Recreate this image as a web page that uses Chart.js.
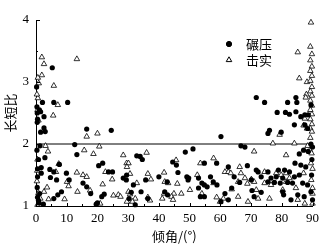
<!DOCTYPE html>
<html>
<head>
<meta charset="utf-8">
<script src="https://cdn.jsdelivr.net/npm/chart.js@4/dist/chart.umd.min.js"></script>
<style>
  html, body { margin: 0; padding: 0; background: #fff; }
  #wrap { width: 324px; height: 246px; }
</style>
</head>
<body>
<div id="wrap"><canvas id="scatterChart" width="324" height="246"></canvas></div>
<script>
// 碾压 (filled circles)
const compactAngle = [
  5.3, 2.1, 5.8, 10.3, 1.5, 2.6, 0.5, 0.4, 2.6, 1.5, 3.0, 16.5, 24.5, 0.3, 0.2, 1.1, 0.4,
  12.6, 1.3, 13.3, 1.7, 4.5, 5.8, 7.6, 9.9, 4.7, 6.7, 10.8, 20.4, 21.7, 23.6, 24.9, 15.3, 16.5,
  17.8, 22.2, 21.4, 5.8, 7.1, 20.0, 28.4, 0.5, 0.5, 0.4, 0.5, 0.8, 1.0, 1.7, 0.8, 2.9, 0.3, 1.2,
  2.4, 8.3, 19.6,
  32.8, 33.9, 34.6, 48.6, 51.1, 44.5, 45.7, 54.8, 46.2, 35.7, 49.1, 49.5, 56.8, 54.0, 54.8, 55.7,
  58.9, 31.7, 34.2, 31.0, 41.9, 42.8, 52.9, 53.5, 54.8, 30.3, 36.4, 32.3, 60.2, 29.5, 29.4, 40.0,
  42.7, 49.7, 52.9, 57.7, 58.8,
  75.5, 66.7, 68.0, 60.2, 85.7, 87.1, 88.6, 62.6, 68.8, 71.7, 72.3, 75.5, 84.3, 78.9, 80.9, 82.5,
  86.2, 87.8, 76.5, 78.2, 80.3, 84.1, 85.7, 64.5, 66.3, 70.1, 73.3, 75.5, 77.6, 79.5, 81.9, 83.5,
  86.8, 88.4, 61.5, 63.7, 62.6, 70.3, 71.0, 73.3, 80.3, 80.6, 85.2, 83.0, 87.3, 89.5, 90.0, 89.7,
  89.8, 71.7, 74.4, 81.9, 84.6, 84.9, 78.5, 81.2, 82.5, 84.6, 86.2, 87.5, 88.6, 89.5, 84.1, 76.0,
  79.8, 87.5, 88.4, 89.5, 90.0
];
const compactRatio = [
  3.23, 2.67, 2.67, 2.67, 2.52, 2.44, 2.40, 2.35, 2.26, 2.19, 2.20, 2.24, 2.22, 2.60, 2.92, 2.55, 2.50,
  1.99, 1.97, 1.83, 1.62, 1.59, 1.55, 1.67, 1.53, 1.46, 1.42, 1.42, 1.65, 1.69, 1.55, 1.55, 1.37, 1.31,
  1.20, 1.19, 1.15, 1.12, 1.18, 1.05, 1.45, 1.60, 1.47, 1.30, 1.14, 1.09, 1.05, 1.53, 1.75, 1.78, 1.90, 1.20,
  1.03, 1.23, 1.03,
  1.81, 1.80, 1.75, 1.87, 1.92, 1.71, 1.66, 1.69, 1.54, 1.42, 1.47, 1.42, 1.47, 1.37, 1.34, 1.31,
  1.34, 1.34, 1.23, 1.22, 1.23, 1.18, 1.29, 1.15, 1.15, 1.12, 1.12, 1.02, 1.07, 1.50, 1.42, 1.47,
  1.39, 1.45, 1.45, 1.39, 1.69,
  2.17, 1.97, 1.95, 2.12, 1.84, 1.90, 1.88, 1.63, 1.65, 1.58, 1.55, 1.55, 1.69, 1.58, 1.58, 1.55,
  1.66, 1.63, 1.45, 1.47, 1.45, 1.47, 1.50, 1.47, 1.38, 1.42, 1.47, 1.39, 1.38, 1.37, 1.38, 1.37,
  1.37, 1.34, 1.20, 1.29, 1.10, 1.25, 1.15, 1.22, 1.23, 1.18, 1.18, 1.10, 1.15, 1.23, 1.10, 1.50,
  1.75, 2.75, 2.67, 2.67, 2.75, 2.67, 2.51, 2.51, 2.48, 2.52, 2.44, 2.47, 2.47, 2.63, 2.31, 2.22,
  2.19, 2.31, 2.25, 2.00, 1.95
];

// 击实 (open triangles)
const tampAngle = [
  1.9, 13.3, 2.6, 1.9, 0.6, 0.9, 5.8, 0.6, 7.1, 5.6, 20.0, 0.5, 0.8, 0.3,
  16.5, 3.1, 3.9, 15.7, 18.7, 20.6, 28.4, 7.4, 6.5, 13.3, 15.3, 16.5, 22.6, 24.8, 10.1, 10.6, 21.7,
  3.6, 2.6, 13.5, 17.6, 25.2, 26.8, 27.5, 9.3, 4.1, 20.9, 29.5, 0.5, 0.4, 0.8, 1.4, 0.3, 0.5,
  36.0, 30.1, 29.6, 30.6, 36.4, 37.4, 41.7, 41.9, 43.0, 53.5, 57.8, 52.5, 46.0, 50.1, 57.8, 30.1,
  30.6, 32.8, 41.7, 44.9, 47.3, 44.1, 44.6, 41.1, 36.4, 37.1, 32.3, 29.6, 31.4, 54.0, 45.6, 58.8,
  79.3, 77.1, 84.1, 71.0, 81.4, 88.4, 89.2, 89.7, 66.3, 61.5, 62.6, 63.4, 66.7, 70.1, 71.0, 74.4,
  78.2, 79.8, 81.4, 82.5, 81.4, 87.1, 65.8, 68.0, 68.8, 74.4, 76.5, 71.7, 63.7, 61.0, 59.9, 65.8,
  69.0, 72.3, 76.0, 80.3, 84.6, 85.2, 87.5, 90.0, 90.0, 89.5, 90.0, 89.6, 90.0,
  89.5, 85.2, 85.7, 88.2, 88.0, 87.8, 87.5, 87.1, 88.2,
  89.3, 89.8, 89.3, 89.8, 89.3, 89.8, 89.3, 89.8, 89.3, 89.8, 89.3, 89.8, 89.3, 89.8, 89.3, 89.8,
  89.3, 89.8, 89.3
];
const tampRatio = [
  3.40, 3.37, 3.29, 3.11, 3.07, 2.98, 2.94, 2.74, 2.63, 2.46, 2.17, 2.55, 2.38, 2.80,
  2.12, 1.97, 1.88, 1.90, 1.84, 1.96, 1.82, 1.68, 1.55, 1.54, 1.50, 1.47, 1.55, 1.43, 1.39, 1.32, 1.35,
  1.30, 1.23, 1.23, 1.25, 1.17, 1.18, 1.15, 1.11, 1.11, 1.04, 1.69, 1.75, 1.57, 1.21, 1.12, 1.40, 1.02,
  1.86, 1.69, 1.63, 1.52, 1.52, 1.43, 1.54, 1.39, 1.37, 1.69, 1.77, 1.50, 1.36, 1.26, 1.37, 1.23,
  1.19, 1.37, 1.20, 1.20, 1.20, 1.15, 1.10, 1.12, 1.14, 1.09, 1.12, 1.07, 1.07, 1.20, 1.74, 1.14,
  2.15, 2.01, 2.01, 1.88, 1.82, 1.97, 1.90, 1.85, 1.63, 1.55, 1.55, 1.53, 1.53, 1.43, 1.39, 1.55,
  1.53, 1.50, 1.53, 1.45, 1.39, 1.53, 1.39, 1.45, 1.36, 1.37, 1.34, 1.26, 1.27, 1.12, 1.07, 1.15,
  1.07, 1.12, 1.12, 1.26, 1.29, 1.10, 1.04, 1.04, 1.29, 1.69, 1.60, 1.42, 1.20,
  3.96, 3.48, 3.06, 3.00, 2.80, 2.75, 2.41, 2.30, 2.25,
  3.57, 3.45, 3.35, 3.25, 3.18, 3.10, 3.02, 2.92, 2.85, 2.78, 2.70, 2.62, 2.55, 2.48, 2.40, 2.32,
  2.25, 2.20, 2.10
];

const refAngle = [0, 90];
const refRatio = [2, 2];

const xTicks = [0, 10, 20, 30, 40, 50, 60, 70, 80, 90];
const yTicks = [1, 2, 3, 4];
const legendLabels = ['碾压', '击实'];

const numFont = '"Liberation Serif", "Noto Sans CJK SC", serif';
const cjkFont = '"Noto Sans CJK SC", "Liberation Serif", serif';

function toPoints(xs, ys) {
    return xs.map((x, i) => ({ x: x, y: ys[i] }));
}

// inward tick marks and the small legend
const decorPlugin = {
    id: 'decor',
    afterDraw(chart) {
        const ctx = chart.ctx;
        const xs = chart.scales.x;
        const ys = chart.scales.y;
        const area = chart.chartArea;
        ctx.save();
        ctx.strokeStyle = '#000';
        ctx.lineWidth = 1;
        ctx.beginPath();
        for (let v = 1; v <= 4; v += 0.5) {
            const py = Math.round(ys.getPixelForValue(v)) + 0.5;
            const len = Number.isInteger(v) ? 4 : 2;
            ctx.moveTo(area.left, py);
            ctx.lineTo(area.left + len, py);
        }
        for (let v = 0; v <= 90; v += 5) {
            const px = Math.round(xs.getPixelForValue(v)) + 0.5;
            const len = v % 10 === 0 ? 3 : 2;
            ctx.moveTo(px, area.bottom);
            ctx.lineTo(px, area.bottom - len);
        }
        ctx.stroke();

        // legend
        const lx = 229, ly = [44, 60];
        Chart.helpers.drawPoint(ctx, { pointStyle: 'circle', radius: 2.6, borderWidth: 1 }, lx, ly[0]);
        ctx.fillStyle = '#000';
        ctx.fill();
        ctx.fillStyle = '#fff';
        Chart.helpers.drawPoint(ctx, { pointStyle: 'triangle', radius: 3.2, borderWidth: 0.9 }, lx, ly[1]);
        ctx.fillStyle = '#000';
        ctx.font = '13px ' + cjkFont;
        ctx.textBaseline = 'middle';
        ctx.textAlign = 'left';
        ctx.fillText(legendLabels[0], 246, ly[0]);
        ctx.fillText(legendLabels[1], 246, ly[1]);
        ctx.restore();
    }
};

const ctx = document.getElementById('scatterChart').getContext('2d');
new Chart(ctx, {
    type: 'scatter',
    data: {
        datasets: [{
            label: '2.0',
            type: 'line',
            data: toPoints(refAngle, refRatio),
            borderColor: '#000',
            borderWidth: 1,
            pointRadius: 0,
            fill: false,
            order: 3
        }, {
            label: legendLabels[1],
            data: toPoints(tampAngle, tampRatio),
            pointStyle: 'triangle',
            pointRadius: 3.2,
            pointBackgroundColor: '#fff',
            pointBorderColor: '#000',
            pointBorderWidth: 0.8,
            order: 2
        }, {
            label: legendLabels[0],
            data: toPoints(compactAngle, compactRatio),
            pointStyle: 'circle',
            pointRadius: 2.6,
            pointBackgroundColor: '#000',
            pointBorderColor: '#000',
            pointBorderWidth: 0,
            order: 1
        }]
    },
    options: {
        responsive: false,
        animation: false,
        clip: false,
        layout: {
            padding: { top: 20, right: 9, left: 0, bottom: 0 }
        },
        plugins: {
            legend: { display: false },
            tooltip: { enabled: false }
        },
        scales: {
            x: {
                type: 'linear',
                min: 0,
                max: 90,
                afterFit: function(scale) { scale.height = 40; },
                afterBuildTicks: function(scale) {
                    scale.ticks = xTicks.map(v => ({ value: v }));
                },
                grid: { display: false, drawTicks: false },
                border: { display: true, color: '#000', width: 1 },
                ticks: {
                    color: '#000',
                    padding: 5,
                    maxRotation: 0,
                    font: { family: numFont, size: 13 }
                },
                title: {
                    display: true,
                    text: '倾角/(°)',
                    color: '#000',
                    padding: { top: 0, bottom: 2 },
                    font: { family: cjkFont, size: 13 }
                }
            },
            y: {
                type: 'linear',
                min: 1,
                max: 4,
                afterFit: function(scale) { scale.width = 36; },
                afterBuildTicks: function(scale) {
                    scale.ticks = yTicks.map(v => ({ value: v }));
                },
                grid: { display: false, drawTicks: false },
                border: { display: true, color: '#000', width: 1 },
                ticks: {
                    color: '#000',
                    padding: 7,
                    font: { family: numFont, size: 13 }
                },
                title: {
                    display: true,
                    text: '长短比',
                    color: '#000',
                    padding: { top: 2, bottom: 0 },
                    font: { family: cjkFont, size: 13 }
                }
            }
        }
    },
    plugins: [decorPlugin]
});
</script>
</body>
</html>
